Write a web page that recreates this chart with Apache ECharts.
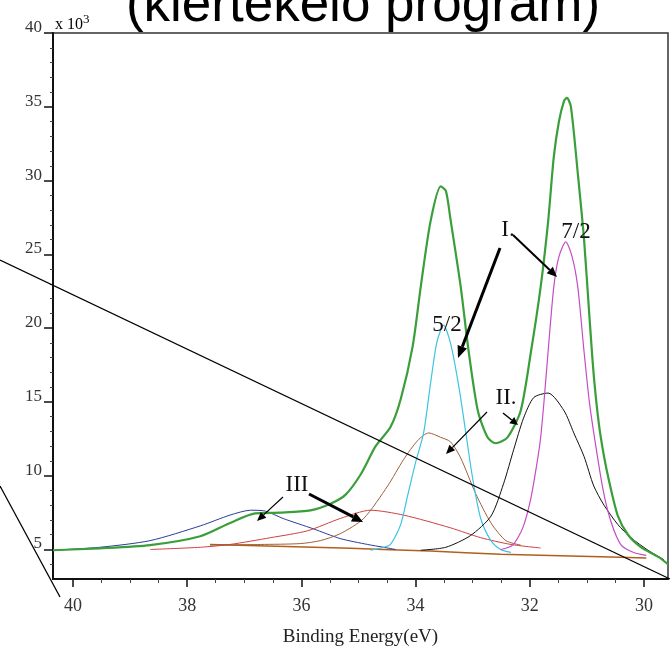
<!DOCTYPE html>
<html><head><meta charset="utf-8">
<script src="https://cdn.jsdelivr.net/npm/echarts@6/dist/echarts.min.js"></script>
<style>html,body{margin:0;padding:0;background:#fff}#c{width:672px;height:652px}</style>
</head><body><div id="c"></div>
<script>
// ---- axis ticks (binding energy in eV, intensity in 10^3 counts) ----
const xMajor = [30, 32, 34, 36, 38, 40];
const xMinor = [30.5, 31, 31.5, 32.5, 33, 33.5, 34.5, 35, 35.5, 36.5, 37, 37.5, 38.5, 39, 39.5];
const yMajor = [5, 10, 15, 20, 25, 30, 35, 40];
const yMinor = [4, 6, 7, 8, 9, 11, 12, 13, 14, 16, 17, 18, 19, 21, 22, 23, 24, 26, 27, 28, 29, 31, 32, 33, 34, 36, 37, 38, 39];

// ---- envelope (total fit) ----
const totalE = [40.35, 39.53, 38.65, 37.77, 37.25, 36.81, 36.37, 35.84, 35.49, 35.23, 34.96, 34.70, 34.44, 34.26, 34.05, 33.91, 33.74, 33.56, 33.47, 33.39, 33.21, 33.07, 32.91, 32.74, 32.60, 32.39, 32.16, 31.98, 31.81, 31.68, 31.58, 31.49, 31.40, 31.35, 31.28, 31.16, 31.05, 30.96, 30.88, 30.79, 30.70, 30.61, 30.46, 30.28, 30.05, 29.75, 29.58];
const totalV = [4.95, 5.08, 5.3, 5.9, 6.8, 7.45, 7.5, 7.65, 8.1, 8.7, 10.1, 12.0, 13.3, 15.2, 18.8, 22.8, 27.2, 29.6, 29.3, 27.4, 22.8, 18.4, 14.4, 12.6, 12.2, 12.6, 14.4, 18.4, 22.8, 27.2, 31.6, 34.0, 35.4, 35.6, 35.0, 30.5, 26.0, 21.0, 16.8, 13.5, 11.3, 9.6, 7.3, 6.0, 5.15, 4.5, 4.0];

// ---- component I 5/2 (cyan) ----
const cyanE = [34.79, 34.61, 34.44, 34.26, 34.14, 34.00, 33.86, 33.74, 33.63, 33.51, 33.39, 33.25, 33.12, 33.00, 32.86, 32.68, 32.51, 32.33];
const cyanV = [4.95, 5.1, 5.35, 6.7, 8.65, 10.9, 12.9, 16.2, 19.0, 20.2, 19.0, 16.2, 12.9, 9.8, 7.1, 5.6, 5.0, 4.8];

// ---- component I 7/2 (magenta) ----
const magE = [32.51, 32.30, 32.12, 31.98, 31.86, 31.81, 31.75, 31.68, 31.58, 31.49, 31.37, 31.26, 31.16, 31.05, 30.96, 30.88, 30.72, 30.58, 30.40, 30.18, 29.96];
const magV = [5.0, 5.3, 6.5, 8.5, 11.2, 12.6, 15.1, 18.4, 22.8, 24.85, 25.85, 24.85, 22.8, 18.4, 15.1, 12.9, 9.1, 6.9, 5.3, 4.8, 4.6];

// ---- component II 7/2 (black) ----
const blackE = [33.91, 33.47, 33.04, 32.68, 32.46, 32.28, 32.11, 31.93, 31.68, 31.40, 31.23, 31.05, 30.88, 30.70, 30.46, 30.23, 29.93, 29.65];
const blackV = [4.95, 5.15, 5.94, 7.26, 9.45, 11.8, 13.9, 15.3, 15.6, 14.4, 12.9, 11.3, 9.3, 8.0, 6.7, 5.8, 4.95, 4.3];

// ---- component II 5/2 (brown) ----
const brownE = [37.60, 36.72, 36.02, 35.67, 35.32, 34.91, 34.49, 34.21, 33.96, 33.77, 33.56, 33.39, 33.21, 32.95, 32.68, 32.42, 32.16];
const brownV = [5.3, 5.34, 5.4, 5.6, 6.07, 7.1, 9.3, 11.1, 12.4, 12.9, 12.6, 12.3, 11.2, 8.8, 6.8, 5.6, 5.3];

// ---- component III (red) ----
const redE = [38.65, 37.77, 37.25, 36.54, 35.89, 35.32, 34.79, 34.21, 33.39, 32.86, 32.33, 31.81];
const redV = [5.0, 5.15, 5.34, 5.8, 6.27, 7.1, 7.66, 7.33, 6.47, 5.8, 5.34, 5.1];

// ---- component III (blue) ----
const blueE = [40.35, 39.53, 38.65, 37.77, 37.25, 36.89, 36.63, 36.32, 35.79, 35.32, 34.84, 34.56, 34.35];
const blueV = [4.95, 5.15, 5.6, 6.6, 7.33, 7.66, 7.6, 7.1, 6.4, 5.74, 5.34, 5.15, 5.0];

// ---- background ----
const bgE = [37.60, 35.14, 33.74, 32.51, 31.11, 29.96];
const bgV = [5.34, 5.08, 4.89, 4.68, 4.55, 4.42];

const zip = (E, V) => E.map((e, i) => [e, V[i]]);
const serif = '"Liberation Serif","DejaVu Serif",serif';
const sans = '"Liberation Sans",Arial,sans-serif';

function line(name, E, V, color, width, z) {
  return { name, type: 'line', data: zip(E, V), showSymbol: false, symbol: 'none', smooth: 0.25,
    xAxisIndex: 0, yAxisIndex: 0, z: z || 2, clip: true,
    lineStyle: { color, width: width || 1 } };
}

function arrow(x1, y1, x2, y2, w, L, H) {
  const dx = x2 - x1, dy = y2 - y1, d = Math.hypot(dx, dy);
  const ux = dx / d, uy = dy / d, px = -uy, py = ux;
  const bx = x2 - ux * L, by = y2 - uy * L;
  return [
    { type: 'line', shape: { x1, y1, x2: bx, y2: by }, style: { stroke: '#000', lineWidth: w }, z: 50 },
    { type: 'polygon', shape: { points: [[x2, y2], [bx + px * H, by + py * H], [bx - px * H, by - py * H]] }, style: { fill: '#000' }, z: 50 }
  ];
}

function label(text, x, y) {
  return { type: 'text', x, y, z: 50,
    style: { text, font: '23px ' + serif, fill: '#111', align: 'center', verticalAlign: 'middle' } };
}

const chart = echarts.init(document.getElementById('c'));
const graphics = [
  { type: 'text', x: 363, y: -20, z: 60,
    style: { text: '(kiértékelő program)', font: '53px ' + sans, fill: '#000', align: 'center', verticalAlign: 'top' } },
  { type: 'text', x: 55, y: 36, z: 60,
    style: { text: '{a|x 10}{b|3}', verticalAlign: 'bottom', align: 'left',
      rich: { a: { fontFamily: serif, fontSize: 16, color: '#333' }, b: { fontFamily: serif, fontSize: 13, color: '#333', padding: [0, 0, 10, 0] } } } },
  { type: 'line', shape: { x1: 0, y1: 260, x2: 670, y2: 579 }, style: { stroke: '#000', lineWidth: 1.3 }, z: 40 },
  { type: 'line', shape: { x1: 0, y1: 486, x2: 60, y2: 597 }, style: { stroke: '#000', lineWidth: 1.3 }, z: 40 },
  label('III', 297, 485), label('5/2', 447, 325), label('I.', 508, 230), label('7/2', 576, 232), label('II.', 506, 398),
  ...arrow(283, 497, 257, 521, 1.2, 9, 4),
  ...arrow(309, 494, 363, 522, 3, 11, 5),
  ...arrow(500, 248, 458, 358, 3, 12, 5),
  ...arrow(513, 235, 557, 277, 2, 10, 4.5),
  ...arrow(487, 412, 446, 454, 1.2, 9, 4),
  ...arrow(503, 413, 518, 425, 1.5, 8, 4)
];

const option = {
  animation: false,
  backgroundColor: '#fff',
  grid: { left: 53, top: 33, right: 4, bottom: 59, show: true, borderColor: '#333', borderWidth: 1.5 },
  xAxis: [
    { type: 'value', min: 29.58, max: 40.35, inverse: true, position: 'bottom',
      axisLine: { show: true, onZero: false, lineStyle: { color: '#111', width: 2 } },
      axisTick: { show: true, customValues: xMajor, length: 8, lineStyle: { color: '#111', width: 1.5 } },
      axisLabel: { show: true, customValues: xMajor, margin: 18, fontFamily: serif, fontSize: 18, color: '#333' },
      splitLine: { show: false },
      name: 'Binding Energy(eV)', nameLocation: 'middle', nameGap: 49,
      nameTextStyle: { fontFamily: serif, fontSize: 19, color: '#222' } },
    { type: 'value', min: 29.58, max: 40.35, inverse: true, position: 'bottom',
      axisLine: { show: false }, axisTick: { show: true, customValues: xMinor, length: 4, lineStyle: { color: '#444' } },
      axisLabel: { show: false }, splitLine: { show: false } }
  ],
  yAxis: [
    { type: 'value', min: 3, max: 40, position: 'left',
      axisLine: { show: true, onZero: false, lineStyle: { color: '#111', width: 2 } },
      axisTick: { show: true, customValues: yMajor, length: 9, lineStyle: { color: '#111', width: 1.5 } },
      axisLabel: { show: true, customValues: yMajor, margin: 11, fontFamily: serif, fontSize: 17, color: '#333', verticalAlign: 'bottom', lineHeight: 11 },
      splitLine: { show: false } },
    { type: 'value', min: 3, max: 40, position: 'left', offset: 0,
      axisLine: { show: false }, axisTick: { show: true, customValues: yMinor, length: 3, lineStyle: { color: '#444' } },
      axisLabel: { show: false }, splitLine: { show: false } }
  ],
  series: [
    line('background', bgE, bgV, '#b0601c', 1.5, 2),
    line('III-a', blueE, blueV, '#2a3c9a', 1, 3),
    line('III-b', redE, redV, '#d04040', 1, 3),
    line('II 5/2', brownE, brownV, '#a0603a', 1, 3),
    line('I 5/2', cyanE, cyanV, '#3cc4e2', 1.2, 3),
    line('II 7/2', blackE, blackV, '#111111', 1, 3),
    line('I 7/2', magE, magV, '#c44cc4', 1.2, 3),
    line('total', totalE, totalV, '#3a9e3a', 2.2, 4)
  ],
  graphic: graphics
};
chart.setOption(option);
</script></body></html>
